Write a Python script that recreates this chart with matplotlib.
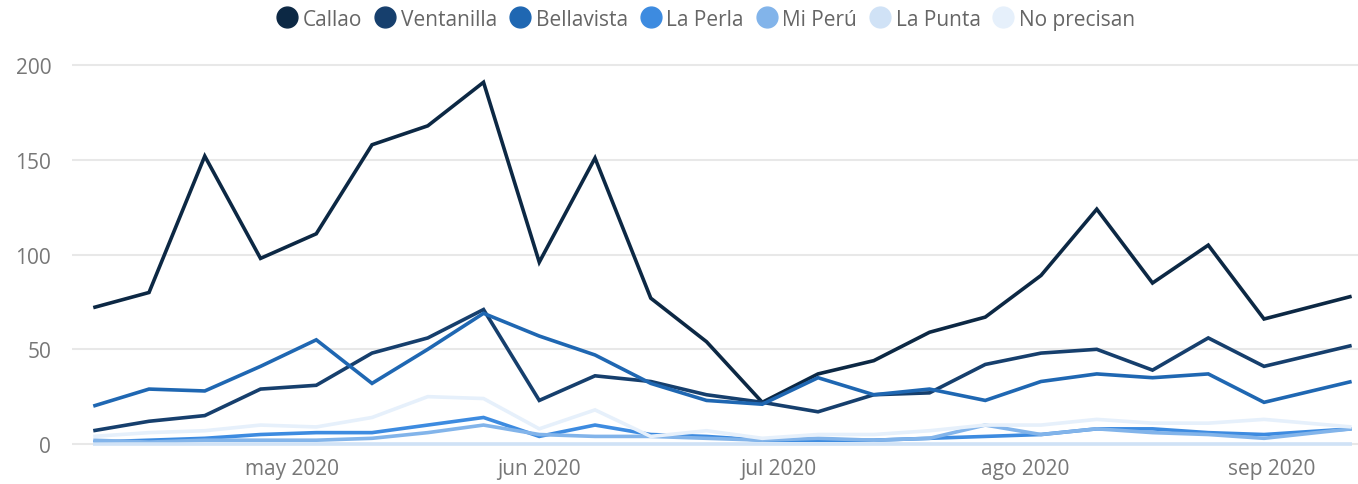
import matplotlib
matplotlib.use("Agg")
import matplotlib.pyplot as plt
import matplotlib.dates as mdates
from matplotlib.lines import Line2D
import pandas as pd

# ---------------- data ----------------
dates = ["2020-04-06", "2020-04-13", "2020-04-20", "2020-04-27", "2020-05-04",
         "2020-05-11", "2020-05-18", "2020-05-25", "2020-06-01", "2020-06-08",
         "2020-06-15", "2020-06-22", "2020-06-29", "2020-07-06", "2020-07-13",
         "2020-07-20", "2020-07-27", "2020-08-03", "2020-08-10", "2020-08-17",
         "2020-08-24", "2020-08-31", "2020-09-11"]

callao      = [72, 80, 152, 98, 111, 158, 168, 191, 96, 151, 77, 54, 22, 37, 44, 59, 67, 89, 124, 85, 105, 66, 78]
ventanilla  = [7, 12, 15, 29, 31, 48, 56, 71, 23, 36, 33, 26, 22, 17, 26, 27, 42, 48, 50, 39, 56, 41, 52]
bellavista  = [20, 29, 28, 41, 55, 32, 50, 69, 57, 47, 32, 23, 21, 35, 26, 29, 23, 33, 37, 35, 37, 22, 33]
la_perla    = [1, 2, 3, 5, 6, 6, 10, 14, 4, 10, 5, 4, 2, 2, 2, 3, 4, 5, 8, 8, 6, 5, 8]
mi_peru     = [2, 1, 2, 2, 2, 3, 6, 10, 5, 4, 4, 3, 2, 3, 2, 3, 10, 5, 8, 6, 5, 3, 8]
la_punta    = [0, 0, 0, 0, 0, 0, 0, 0, 0, 0, 0, 0, 0, 0, 0, 0, 0, 0, 0, 0, 0, 0, 0]
no_precisan = [4, 6, 7, 10, 9, 14, 25, 24, 8, 18, 4, 7, 3, 5, 5, 7, 10, 10, 13, 11, 11, 13, 9]

series_names = ["Callao", "Ventanilla", "Bellavista", "La Perla", "Mi Perú", "La Punta", "No precisan"]
series_values = [callao, ventanilla, bellavista, la_perla, mi_peru, la_punta, no_precisan]
colors = ["#0c2844", "#163f6d", "#1f67b2", "#3d8be0", "#82b4ea", "#d0e2f6", "#e6f0fb"]

xtick_dates = ["2020-05-01", "2020-06-01", "2020-07-01", "2020-08-01", "2020-09-01"]
xtick_labels = ["may 2020", "jun 2020", "jul 2020", "ago 2020", "sep 2020"]
yticks = [0, 50, 100, 150, 200]

# ---------------- figure ----------------
plt.rcParams["font.family"] = ["Open Sans", "DejaVu Sans"]
fig = plt.figure(figsize=(13.58, 4.85), dpi=100)
ax = fig.add_axes([72 / 1358, 33 / 485, 1286 / 1358, 396 / 485])

x = pd.to_datetime(dates)
for name, vals, c in zip(series_names, series_values, colors):
    ax.plot(x, vals, color=c, lw=2.6, solid_joinstyle="miter", solid_capstyle="butt",
            label=name, clip_on=False)

x0 = mdates.date2num(pd.Timestamp(dates[0]))
x1 = mdates.date2num(pd.Timestamp(dates[-1]))
ax.set_xlim(x0 - 2.67, x1 + 0.8)
ax.set_ylim(-3.7, 205.4)

ax.set_yticks(yticks)
ax.set_yticklabels([str(v) for v in yticks])
ax.set_xticks(pd.to_datetime(xtick_dates))
ax.set_xticklabels(xtick_labels)

ax.grid(axis="y", color="#e8e8e8", lw=1.5)
ax.set_axisbelow(True)
for s in ax.spines.values():
    s.set_visible(False)
ax.tick_params(axis="both", length=0, labelsize=15, labelcolor="#777777")
ax.tick_params(axis="y", pad=15)
ax.tick_params(axis="x", pad=5)

handles = [Line2D([], [], ls="none", marker="o", markersize=15, markerfacecolor=c,
                  markeredgecolor=c) for c in colors]
leg = ax.legend(handles, series_names, loc="center", bbox_to_anchor=(0.493, (485 - 20 - 33) / 396),
                ncol=7, frameon=False, fontsize=15, handlelength=1.0, handletextpad=0.25,
                columnspacing=0.6, borderaxespad=0)
for t in leg.get_texts():
    t.set_color("#666666")

fig.savefig("out.png", dpi=100, facecolor="white")
